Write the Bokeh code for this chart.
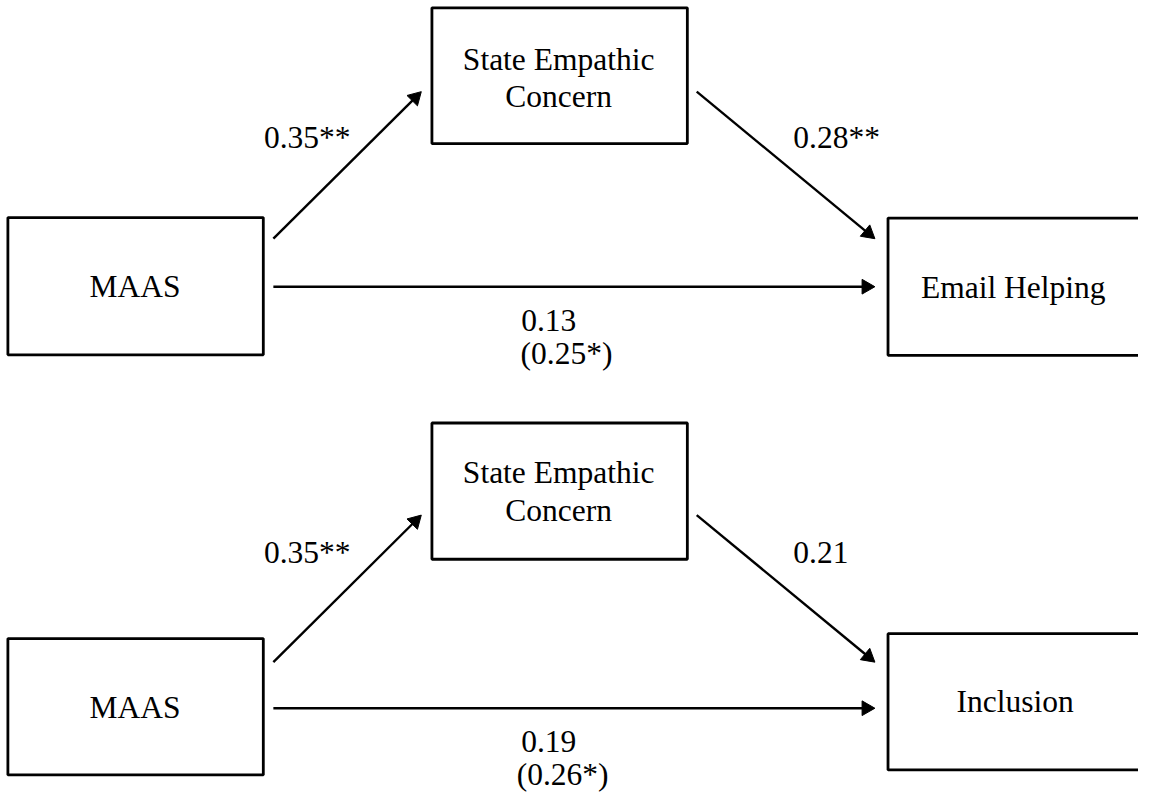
import numpy as np
from bokeh.plotting import figure
from bokeh.models import Range1d, ColumnDataSource
from bokeh.core.properties import value
from bokeh.embed import file_html
from bokeh.resources import INLINE

# ---- diagram content (data) ----
predictor = ["MAAS", "MAAS"]
mediator_lines = ["State Empathic", "Concern"]
outcomes = ["Email Helping", "Inclusion"]
a_path = ["0.35**", "0.35**"]
b_path = ["0.28**", "0.21"]
c_direct = ["0.13", "0.19"]
c_total = ["(0.25*)", "(0.26*)"]

# ---- layout (reference picture coordinates, 1154 x 809) ----
FONT = value("Liberation Serif")
FS = "31.5px"

p = figure(width=1138, height=793, x_range=Range1d(0, 1154), y_range=Range1d(809, 0),
           output_backend="svg", toolbar_location=None, min_border=0,
           background_fill_color="white", border_fill_color="white")
p.axis.visible = False
p.grid.visible = False
p.outline_line_color = None

# boxes: predictor, mediator, outcome for each panel
bl = [7.5, 437.5, 900, 7.5, 437.5, 900]
br = [266.5, 696.5, 1175, 266.5, 696.5, 1175]
bt = [221.5, 7.5, 222, 651, 431, 646]
bb = [361.5, 146, 362, 790, 570, 785]
p.quad(left=bl, right=br, top=bt, bottom=bb, fill_color=None,
       line_color="black", line_width=2.8)

# arrows
ax0, ay0, ax1, ay1 = [], [], [], []
for off, hy in [(0, 292), (432, 722)]:
    ax0 += [276.7, 706, 276.7]
    ay0 += [243 + off, 93 + off, hy]
    ax1 += [426.7, 886.7, 886.7]
    ay1 += [93 + off, 243 + off, hy]
ax0, ay0, ax1, ay1 = map(np.array, (ax0, ay0, ax1, ay1))
dx, dy = ax1 - ax0, ay1 - ay0
ln = np.hypot(dx, dy)
ux, uy = dx / ln, dy / ln
L, W = 13.0, 15.0
bx, by = ax1 - L * ux, ay1 - L * uy
nx, ny = -uy, ux
p.segment(x0=ax0, y0=ay0, x1=bx + 2 * ux, y1=by + 2 * uy, line_color="black", line_width=2.4)
xs = [[ax1[k], bx[k] + W / 2 * nx[k], bx[k] - W / 2 * nx[k]] for k in range(len(ax1))]
ys = [[ay1[k], by[k] + W / 2 * ny[k], by[k] - W / 2 * ny[k]] for k in range(len(ax1))]
p.patches(xs=xs, ys=ys, fill_color="black", line_color="black", line_width=1)

# node labels and coefficients (centered)
tx, ty, tt = [], [], []
tx += [136.5, 136.5]; ty += [292, 721]; tt += predictor
tx += [566, 566, 566, 566]; ty += [60, 98, 482, 520]
tt += [mediator_lines[0], mediator_lines[1], mediator_lines[0], mediator_lines[1]]
tx += [1027, 1029]; ty += [293, 715]; tt += outcomes
tx += [311, 311]; ty += [140, 563]; tt += a_path
tx += [556, 556]; ty += [326, 756]; tt += c_direct
tx += [574, 570]; ty += [360, 790]; tt += c_total
src = ColumnDataSource(dict(x=tx, y=ty, t=tt))
p.text(x="x", y="y", text="t", source=src, text_font=FONT, text_font_size=FS,
       text_align="center", text_baseline="middle", text_color="black")

# b-path coefficients (left aligned)
p.text(x=[804, 804], y=[140, 563], text=b_path, text_font=FONT, text_font_size=FS,
       text_align="left", text_baseline="middle", text_color="black")

open("out.html", "w").write(file_html(p, INLINE))
